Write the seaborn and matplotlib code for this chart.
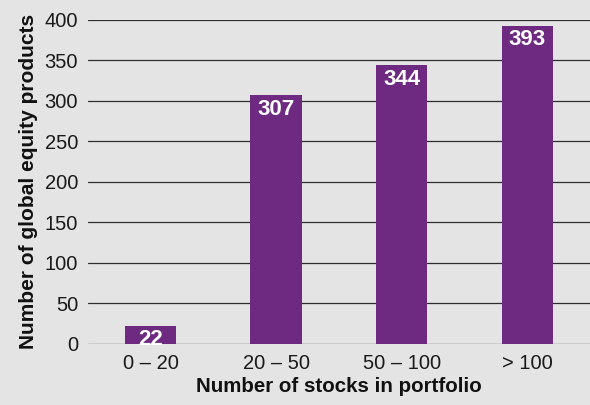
import matplotlib
matplotlib.use("Agg")
import matplotlib.pyplot as plt
import pandas as pd
import seaborn as sns

categories = ["0 – 20", "20 – 50", "50 – 100", "> 100"]
products = [22, 307, 344, 393]
y_ticks = [0, 50, 100, 150, 200, 250, 300, 350, 400]

bg = "#e4e4e4"
purple = "#6e2a81"

sns.set_style("white")
plt.rcParams["font.family"] = ["Liberation Sans", "DejaVu Sans"]

df = pd.DataFrame({"bucket": categories, "count": products})

fig = plt.figure(figsize=(5.9, 4.05), dpi=100, facecolor=bg)
ax = fig.add_axes([0.149, 0.151, 0.851, 0.80])
ax.set_facecolor(bg)

sns.barplot(data=df, x="bucket", y="count", color=purple, saturation=1,
            width=0.41, edgecolor="none", linewidth=0, ax=ax, zorder=3)

# bar value labels sitting inside the top of each bar
for i, v in enumerate(products):
    ax.annotate(str(v), (i, v), xytext=(0, -2.5), textcoords="offset points",
                ha="center", va="top", color="white", fontsize=16,
                fontweight="bold", zorder=4)

ax.set_ylim(0, 400)
ax.set_xlim(-0.5, 3.5)
ax.set_yticks(y_ticks)
ax.yaxis.grid(True, color="#2e2e2e", linewidth=0.9)
ax.set_axisbelow(True)
for s in ["left", "right", "top", "bottom"]:
    ax.spines[s].set_visible(False)
ax.tick_params(axis="both", length=0, labelsize=14.5, colors="#1a1a1a")
ax.tick_params(axis="y", pad=7)
ax.tick_params(axis="x", pad=7)

ax.set_xlabel("Number of stocks in portfolio", fontsize=14.8, fontweight="bold",
              color="#111111", labelpad=3)
ax.set_ylabel("Number of global equity products", fontsize=15, fontweight="bold",
              color="#111111", labelpad=5)

fig.savefig("out.png", dpi=100, facecolor=bg)
